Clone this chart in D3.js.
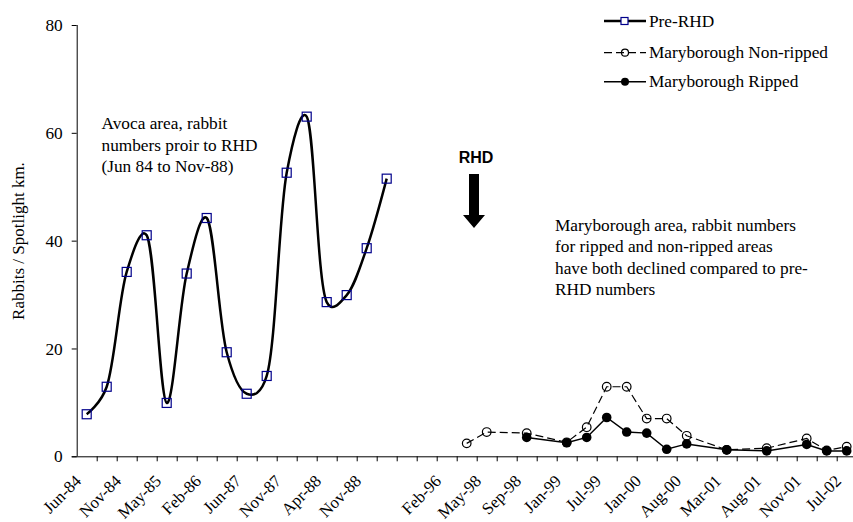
<!DOCTYPE html>
<html>
<head>
<meta charset="utf-8">
<script src="https://cdn.jsdelivr.net/npm/d3@7"></script>
<style>
  body { margin: 0; background: #fff; }
</style>
</head>
<body>
<div id="chart"></div>
<script>
// tick labels, shown on every second category (index 16 has no label)
var tickLabels = ["Jun-84", "Nov-84", "May-85", "Feb-86", "Jun-87", "Nov-87", "Apr-88", "Nov-88", "",
    "Feb-96", "May-98", "Sep-98", "Jan-99", "Jul-99", "Jan-00", "Aug-00", "Mar-01", "Aug-01", "Nov-01", "Jul-02"];
var nCategories = 39;

// series values by category index (null = no survey)
var preRHD = [7.8, 12.9, 34.2, 41.0, 9.9, 33.9, 44.2, 19.3, 11.6, 14.9, 52.6, 63.0, 28.6, 29.9, 38.6, 51.5,
    null, null, null, null, null, null, null, null, null, null, null, null, null, null,
    null, null, null, null, null, null, null, null, null];
var nonRipped = [null, null, null, null, null, null, null, null, null, null, null, null, null, null, null, null,
    null, null, null, 2.4, 4.5, null, 4.3, null, 2.6, 5.4, 12.9, 12.9, 7.0, 7.0,
    3.8, null, 1.2, null, 1.5, null, 3.3, 1.1, 1.8];
var ripped = [null, null, null, null, null, null, null, null, null, null, null, null, null, null, null, null,
    null, null, null, null, null, null, 3.5, null, 2.5, 3.5, 7.2, 4.5, 4.3, 1.3,
    2.3, null, 1.2, null, 1.0, null, 2.2, 1.0, 1.0];

var yTicks = [0, 20, 40, 60, 80];

var SERIF = "'Liberation Serif', 'Times New Roman', 'DejaVu Serif', serif";
var SANS = "'Liberation Sans', Arial, sans-serif";
var FS = 17.3;

var width = 853, height = 522;

var svg = d3.select("#chart").append("svg")
    .attr("width", width)
    .attr("height", height)
    .attr("font-family", SERIF);

// set the ranges
var x = d3.scaleBand().domain(d3.range(nCategories)).range([76.7, 856.7]);
var xEdge = d3.scaleLinear().domain([0, nCategories]).range([76.7, 856.7]);
var y = d3.scaleLinear().domain([0, 80]).range([456.3, 25]);

function cx(i) { return x(i) + x.bandwidth() / 2; }

function points(values) {
    var out = [];
    values.forEach(function(v, i) { if (v != null) out.push({i: i, v: v}); });
    return out;
}

// y axis
var yAxis = svg.append("g")
    .attr("transform", "translate(76.7,0)")
    .call(d3.axisLeft(y).tickValues(yTicks).tickSize(5).tickPadding(9));
yAxis.attr("font-family", SERIF).attr("font-size", FS);
yAxis.selectAll("text").attr("fill", "#000");
yAxis.select(".domain").attr("d", "M0.5," + y(80) + "V" + y(0));

// x axis: tick marks on category edges
var xAxis = svg.append("g")
    .attr("transform", "translate(0," + y(0) + ")")
    .call(d3.axisBottom(xEdge).tickValues(d3.range(1, nCategories + 1)).tickSize(5).tickFormat(""));
xAxis.select(".domain").attr("d", "M71.7,0.5H853");

// x labels rotated 45 degrees, end of label just left of the category centre
svg.append("g").selectAll("text")
    .data(tickLabels)
    .join("text")
    .attr("text-anchor", "end")
    .attr("font-family", SERIF)
    .attr("font-size", 16.8)
    .attr("transform", function(d, k) { return "translate(" + (cx(k * 2) - 4.5) + ",482) rotate(-45)"; })
    .text(function(d) { return d; });

// y axis title
svg.append("text")
    .attr("transform", "translate(24,241) rotate(-90)")
    .attr("text-anchor", "middle")
    .attr("font-family", SERIF)
    .attr("font-size", 17)
    .text("Rabbits / Spotlight km.");

// pre-RHD smoothed line
var smoothLine = d3.line()
    .x(function(d) { return cx(d.i); })
    .y(function(d) { return y(d.v); })
    .curve(d3.curveCatmullRom.alpha(0.25));

var straightLine = d3.line()
    .x(function(d) { return cx(d.i); })
    .y(function(d) { return y(d.v); });

svg.append("path")
    .datum(points(preRHD))
    .attr("fill", "none")
    .attr("stroke", "#000")
    .attr("stroke-width", 2.5)
    .attr("d", smoothLine);

svg.append("g").selectAll("rect")
    .data(points(preRHD))
    .join("rect")
    .attr("x", function(d) { return cx(d.i) - 4.5; })
    .attr("y", function(d) { return y(d.v) - 4.5; })
    .attr("width", 9)
    .attr("height", 9)
    .attr("fill", "none")
    .attr("stroke", "#00008b")
    .attr("stroke-width", 1.2);

// Maryborough non-ripped (dashed, open circles)
svg.append("path")
    .datum(points(nonRipped))
    .attr("fill", "none")
    .attr("stroke", "#000")
    .attr("stroke-width", 1.2)
    .attr("stroke-dasharray", "8,4")
    .attr("d", straightLine);

svg.append("g").selectAll("circle")
    .data(points(nonRipped))
    .join("circle")
    .attr("cx", function(d) { return cx(d.i); })
    .attr("cy", function(d) { return y(d.v); })
    .attr("r", 4.3)
    .attr("fill", "none")
    .attr("stroke", "#000")
    .attr("stroke-width", 1.2);

// Maryborough ripped (solid, filled circles)
svg.append("path")
    .datum(points(ripped))
    .attr("fill", "none")
    .attr("stroke", "#000")
    .attr("stroke-width", 1.5)
    .attr("d", straightLine);

svg.append("g").selectAll("circle")
    .data(points(ripped))
    .join("circle")
    .attr("cx", function(d) { return cx(d.i); })
    .attr("cy", function(d) { return y(d.v); })
    .attr("r", 4.8)
    .attr("fill", "#000");

// RHD arrow
var ax = 474;
svg.append("text")
    .attr("x", ax + 2)
    .attr("y", 163)
    .attr("text-anchor", "middle")
    .attr("font-family", SANS)
    .attr("font-weight", "bold")
    .attr("font-size", 16)
    .text("RHD");
svg.append("path")
    .attr("d", "M" + (ax - 5) + ",174H" + (ax + 5) + "V215H" + (ax + 11) + "L" + ax + ",228L" + (ax - 11) + ",215H" + (ax - 5) + "Z")
    .attr("fill", "#000");

// annotations
var note1 = ["Avoca area, rabbit", "numbers proir to RHD", "(Jun 84 to Nov-88)"];
svg.append("g").selectAll("text")
    .data(note1)
    .join("text")
    .attr("x", 101.5)
    .attr("y", function(d, k) { return 129.3 + k * 21.5; })
    .attr("font-family", SERIF)
    .attr("font-size", FS)
    .text(function(d) { return d; });

var note2 = ["Maryborough area, rabbit numbers", "for ripped and non-ripped areas",
    "have both declined compared to pre-", "RHD numbers"];
svg.append("g").selectAll("text")
    .data(note2)
    .join("text")
    .attr("x", 555)
    .attr("y", function(d, k) { return 230.7 + k * 21.5; })
    .attr("font-family", SERIF)
    .attr("font-size", FS)
    .text(function(d) { return d; });

// legend
var legend = svg.append("g");
var rows = [21, 52.7, 81.7];

legend.append("line").attr("x1", 604).attr("x2", 646).attr("y1", rows[0]).attr("y2", rows[0])
    .attr("stroke", "#000").attr("stroke-width", 2.5);
legend.append("rect").attr("x", 621).attr("y", rows[0] - 3.5).attr("width", 7).attr("height", 7)
    .attr("fill", "#fff").attr("stroke", "#00008b").attr("stroke-width", 1.2);

legend.append("line").attr("x1", 604).attr("x2", 646).attr("y1", rows[1]).attr("y2", rows[1])
    .attr("stroke", "#000").attr("stroke-width", 1.2).attr("stroke-dasharray", "8,4");
legend.append("circle").attr("cx", 625).attr("cy", rows[1]).attr("r", 3.5)
    .attr("fill", "none").attr("stroke", "#000").attr("stroke-width", 1.2);

legend.append("line").attr("x1", 604).attr("x2", 646).attr("y1", rows[2]).attr("y2", rows[2])
    .attr("stroke", "#000").attr("stroke-width", 1.5);
legend.append("circle").attr("cx", 625).attr("cy", rows[2]).attr("r", 4)
    .attr("fill", "#000");

legend.selectAll("text.lab")
    .data(["Pre-RHD", "Maryborough Non-ripped", "Maryborough Ripped"])
    .join("text")
    .attr("class", "lab")
    .attr("x", 649)
    .attr("y", function(d, k) { return rows[k] + 5.7; })
    .attr("font-family", SERIF)
    .attr("font-size", FS)
    .text(function(d) { return d; });
</script>
</body>
</html>
